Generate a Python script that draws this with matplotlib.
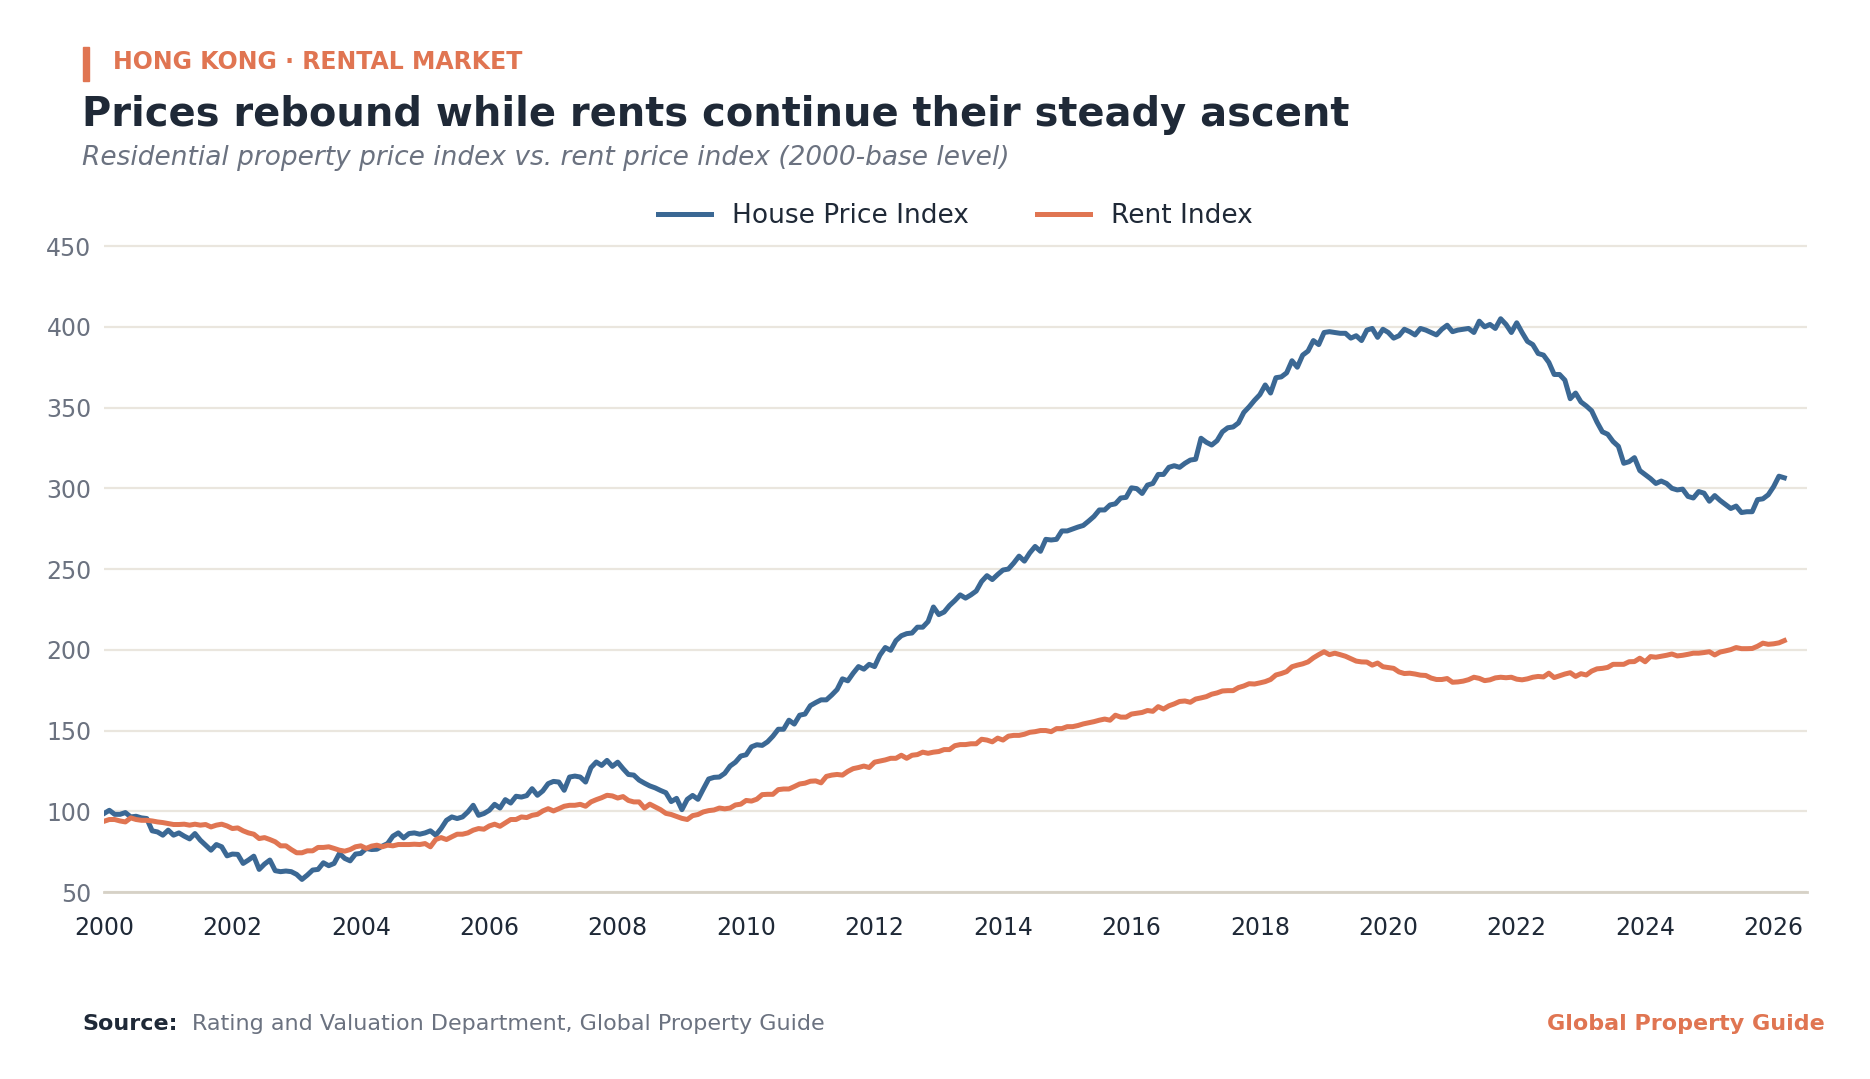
import numpy as np
import matplotlib
matplotlib.use("Agg")
import matplotlib.pyplot as plt

# --------------------------------------------------
# data: monthly index values, Jan 2000 - Mar 2026
# --------------------------------------------------
START_YEAR = 2000

house_price = [
    # 2000
    98.6, 100.6, 98.1, 98.1, 99.2, 96.5, 96.9, 95.9, 95.5, 87.9, 87.2, 85.2,
    # 2001
    88.3, 85.2, 86.6, 84.6, 82.9, 86.2, 82.1, 79.0, 75.9, 79.4, 78.0, 72.4,
    # 2002
    73.5, 73.3, 67.7, 69.8, 72.2, 64.0, 67.3, 69.8, 63.2, 62.6, 63.0, 62.6,
    # 2003
    60.9, 57.8, 60.5, 63.6, 64.0, 68.1, 66.3, 67.7, 73.9, 70.8, 69.3, 73.5,
    # 2004
    73.9, 77.0, 76.3, 76.5, 78.4, 80.0, 84.6, 86.6, 83.5, 86.2, 86.6, 85.8,
    # 2005
    86.6, 87.9, 85.2, 89.3, 94.4, 96.5, 95.5, 96.5, 99.6, 103.7, 97.5, 98.6,
    # 2006
    100.6, 104.3, 102.0, 107.2, 105.1, 109.3, 108.8, 109.7, 114.0, 109.9, 112.6, 117.1,
    # 2007
    118.5, 118.1, 113.0, 121.2, 121.8, 121.2, 118.1, 127.0, 130.5, 128.4, 131.5, 127.8,
    # 2008
    130.4, 126.4, 122.8, 122.4, 119.3, 117.4, 115.7, 114.5, 112.9, 111.5, 106.0, 108.0,
    # 2009
    101.0, 107.4, 109.8, 107.4, 113.8, 120.0, 121.0, 121.2, 123.5, 128.0, 130.4, 134.2,
    # 2010
    135.0, 139.9, 141.2, 140.8, 143.0, 146.5, 150.8, 150.8, 156.4, 154.0, 159.5, 160.2,
    # 2011
    165.4, 167.3, 169.0, 169.0, 172.0, 175.4, 182.0, 180.8, 185.5, 189.6, 188.0, 191.0,
    # 2012
    189.6, 196.7, 201.4, 199.7, 205.7, 208.7, 210.0, 210.4, 214.0, 214.0, 217.5, 226.5,
    # 2013
    221.8, 223.4, 227.4, 230.5, 234.0, 232.0, 234.0, 236.4, 242.3, 245.9, 243.5, 246.6,
    # 2014
    249.4, 250.0, 253.7, 258.0, 254.9, 260.0, 264.0, 261.0, 268.4, 268.0, 268.4, 273.6,
    # 2015
    273.6, 274.8, 276.0, 277.0, 279.7, 282.6, 286.6, 286.6, 289.7, 290.4, 294.0, 294.4,
    # 2016
    300.3, 299.8, 296.8, 302.0, 303.0, 308.6, 308.6, 313.0, 314.0, 313.0, 315.5, 317.5,
    # 2017
    318.0, 331.0, 328.5, 326.8, 329.5, 335.0, 337.5, 338.0, 340.5, 347.0, 350.5, 354.5,
    # 2018
    358.0, 364.0, 359.0, 368.5, 369.0, 371.5, 379.0, 375.0, 382.5, 385.0, 391.5, 389.0,
    # 2019
    396.5, 397.0, 396.5, 396.0, 396.0, 393.0, 394.5, 391.5, 398.0, 399.0, 393.5, 398.5,
    # 2020
    396.5, 393.0, 394.5, 398.5, 397.0, 395.0, 399.0, 398.0, 396.5, 395.0, 398.5, 401.0,
    # 2021
    397.0, 398.0, 398.5, 399.0, 396.5, 403.5, 400.0, 401.5, 399.0, 405.0, 401.5, 396.5,
    # 2022
    402.5, 396.5, 391.0, 389.0, 383.5, 382.5, 378.0, 370.5, 370.5, 367.0, 355.5, 359.0,
    # 2023
    353.5, 351.0, 348.0, 341.0, 335.0, 333.5, 329.0, 326.0, 315.5, 316.5, 319.0, 311.0,
    # 2024
    308.5, 306.0, 303.0, 304.5, 303.0, 300.0, 299.0, 299.5, 295.0, 294.0, 298.0, 297.0,
    # 2025
    292.0, 295.5, 292.5, 290.0, 287.5, 289.0, 285.0, 285.5, 285.5, 293.0, 293.5, 296.0,
    # 2026
    301.0, 307.5, 306.5,
]

rent = [
    # 2000
    93.8, 94.9, 94.9, 94.0, 93.4, 95.9, 94.9, 94.4, 94.4, 94.0, 93.4, 93.0,
    # 2001
    92.4, 91.8, 91.8, 92.0, 91.4, 92.0, 91.4, 91.8, 90.3, 91.4, 92.0, 90.9,
    # 2002
    89.3, 89.7, 87.9, 86.6, 85.8, 83.1, 83.7, 82.5, 81.1, 78.6, 78.6, 76.3,
    # 2003
    74.3, 74.3, 75.5, 75.5, 77.6, 77.6, 78.0, 77.0, 75.9, 75.3, 76.3, 78.0,
    # 2004
    78.6, 77.0, 78.4, 79.0, 78.0, 79.0, 78.6, 79.4, 79.4, 79.4, 79.6, 79.4,
    # 2005
    80.0, 78.0, 82.5, 83.7, 82.5, 84.2, 85.8, 85.8, 86.6, 88.3, 89.3, 88.9,
    # 2006
    90.9, 92.0, 90.7, 92.8, 94.9, 94.9, 96.5, 96.1, 97.5, 98.1, 100.2, 101.6,
    # 2007
    100.2, 101.6, 103.1, 103.7, 103.7, 104.3, 103.1, 105.8, 107.2, 108.4, 109.9, 109.5,
    # 2008
    108.2, 109.1, 106.7, 105.8, 105.8, 102.0, 104.4, 102.7, 101.0, 98.7, 98.0, 96.8,
    # 2009
    95.6, 94.9, 97.3, 98.0, 99.6, 100.4, 100.8, 102.0, 101.5, 102.0, 103.9, 104.4,
    # 2010
    106.7, 106.3, 107.5, 110.3, 110.5, 110.5, 113.4, 113.8, 113.8, 115.3, 116.9, 117.4,
    # 2011
    118.6, 118.8, 117.6, 121.6, 122.4, 122.8, 122.4, 124.7, 126.4, 127.1, 128.0, 127.1,
    # 2012
    130.4, 131.1, 131.8, 132.8, 132.8, 134.7, 132.8, 134.7, 135.1, 136.6, 135.9, 136.6,
    # 2013
    137.0, 138.2, 138.2, 140.6, 141.3, 141.3, 141.8, 141.8, 144.6, 144.1, 143.0, 145.3,
    # 2014
    144.1, 146.5, 147.0, 147.0, 147.7, 148.9, 149.3, 150.0, 150.0, 149.3, 151.2, 151.2,
    # 2015
    152.4, 152.4, 153.1, 154.1, 154.8, 155.5, 156.4, 157.1, 156.4, 159.5, 158.3, 158.3,
    # 2016
    160.2, 160.7, 161.2, 162.4, 161.9, 164.8, 163.3, 165.3, 166.5, 168.0, 168.3, 167.5,
    # 2017
    169.5, 170.2, 171.0, 172.5, 173.3, 174.5, 174.7, 174.7, 176.6, 177.6, 179.0, 178.8,
    # 2018
    179.5, 180.3, 181.6, 184.4, 185.3, 186.5, 189.5, 190.5, 191.3, 192.5, 195.0, 197.0,
    # 2019
    198.8, 197.0, 197.9, 197.0, 196.0, 194.5, 193.0, 192.5, 192.4, 190.5, 191.8, 189.5,
    # 2020
    189.0, 188.5, 186.3, 185.3, 185.5, 185.0, 184.3, 184.1, 182.5, 181.6, 181.6, 182.2,
    # 2021
    179.9, 180.1, 180.6, 181.5, 183.0, 182.3, 180.9, 181.4, 182.6, 183.0, 182.7, 183.0,
    # 2022
    181.8, 181.4, 182.0, 183.0, 183.5, 183.2, 185.5, 182.8, 183.9, 185.0, 185.8, 183.5,
    # 2023
    185.2, 184.4, 186.8, 188.2, 188.5, 189.1, 191.0, 191.0, 191.0, 192.6, 192.7, 194.8,
    # 2024
    192.6, 195.8, 195.4, 196.0, 196.6, 197.4, 196.2, 196.6, 197.2, 197.9, 197.9, 198.3,
    # 2025
    198.8, 196.8, 198.6, 199.3, 200.1, 201.4, 200.7, 200.7, 200.8, 202.2, 204.1, 203.4,
    # 2026
    203.7, 204.3, 205.7,
]

x_ticks = list(range(2000, 2027, 2))
y_ticks = list(range(50, 451, 50))

# --------------------------------------------------
# styling
# --------------------------------------------------
BLUE = "#3B6894"
ORANGE = "#E07552"
DARK = "#1F2937"
GRAY = "#6B7280"
GRID = "#EAE6DE"
BASE = "#D6D1C6"

dates = START_YEAR + np.arange(len(house_price)) / 12.0

fig = plt.figure(figsize=(18.7, 10.79), dpi=100)
ax = fig.add_axes([0.0556, 0.1733, 0.9107, 0.6061])

ax.plot(dates, house_price, color=BLUE, lw=3.6, label="House Price Index",
        solid_joinstyle="round", zorder=3)
ax.plot(dates, rent, color=ORANGE, lw=3.6, label="Rent Index",
        solid_joinstyle="round", zorder=3)

ax.set_xlim(2000, 2026.52)
ax.set_ylim(50, 455)
ax.set_xticks(x_ticks)
ax.set_yticks(y_ticks)
ax.tick_params(axis="y", length=0, pad=9, labelsize=17, labelcolor=GRAY)
ax.tick_params(axis="x", length=0, pad=17, labelsize=17, labelcolor=DARK)

for s in ["top", "right", "left"]:
    ax.spines[s].set_visible(False)
ax.spines["bottom"].set_color(BASE)
ax.spines["bottom"].set_linewidth(2)

ax.yaxis.grid(True, color=GRID, lw=1.6)
ax.set_axisbelow(True)

leg = fig.legend(loc="center", bbox_to_anchor=(0.511, 0.800), ncol=2,
                 frameon=False, fontsize=19, handlelength=2.0,
                 columnspacing=2.6, handletextpad=0.8)
for t in leg.get_texts():
    t.set_color(DARK)

# --------------------------------------------------
# header / footer
# --------------------------------------------------
fig.patches.append(plt.Rectangle((0.0446, 0.925), 0.0032, 0.031,
                                 transform=fig.transFigure, color=ORANGE))
fig.text(0.0605, 0.9425, "HONG KONG · RENTAL MARKET", color=ORANGE,
         fontsize=17, fontweight="bold", va="center", ha="left")
fig.text(0.0438, 0.893, "Prices rebound while rents continue their steady ascent",
         color=DARK, fontsize=28.8, fontweight="bold", va="center", ha="left")
fig.text(0.0438, 0.854, "Residential property price index vs. rent price index (2000-base level)",
         color=GRAY, fontsize=19, style="italic", va="center", ha="left")

fig.text(0.0438, 0.051, "Source:", color=DARK, fontsize=16, fontweight="bold",
         va="center", ha="left")
fig.text(0.1027, 0.051, "Rating and Valuation Department, Global Property Guide",
         color=GRAY, fontsize=16, va="center", ha="left")
fig.text(0.976, 0.051, "Global Property Guide", color=ORANGE, fontsize=16,
         fontweight="bold", va="center", ha="right")

fig.savefig("out.png", dpi=100, facecolor="white")
